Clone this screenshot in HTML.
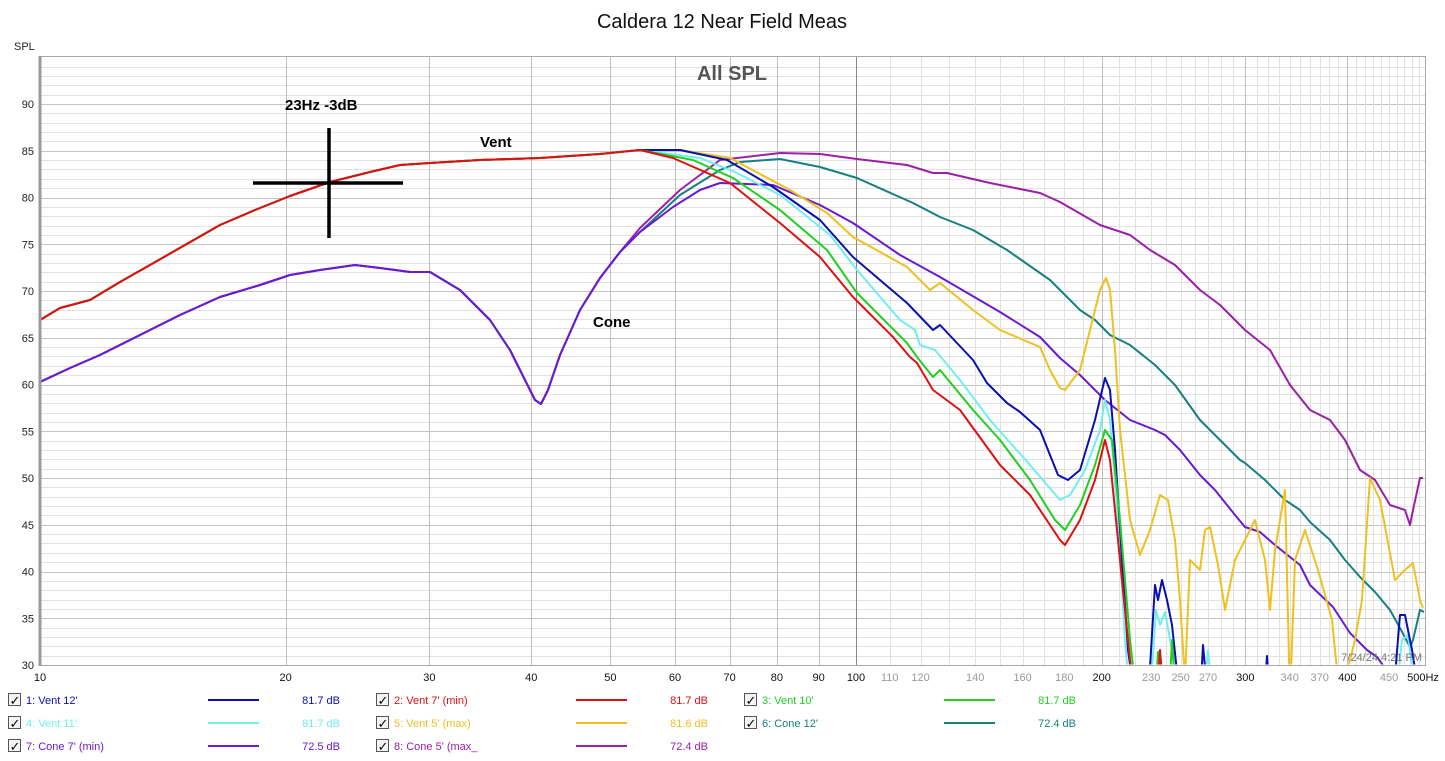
<!DOCTYPE html>
<html><head><meta charset="utf-8"><style>
body{margin:0;background:#fff;width:1445px;height:761px;overflow:hidden;font-family:"Liberation Sans",sans-serif}
svg{display:block}
</style></head><body>
<svg id="s" width="1445" height="761" xmlns="http://www.w3.org/2000/svg" font-family="Liberation Sans, sans-serif">
<defs><clipPath id="cp"><rect x="41" y="57" width="1384" height="607.5"/></clipPath></defs>
<rect width="1445" height="761" fill="#fff"/>
<g id="grid"></g>
<g id="curves" fill="none" stroke-width="2" stroke-linejoin="round" clip-path="url(#cp)"></g>
<rect x="40.5" y="56.5" width="1385" height="609" fill="none" stroke="#a8a8a8" stroke-width="1"/>
<line x1="40" y1="56" x2="40" y2="666" stroke="#9a9a9a" stroke-width="3"/>
<text x="722" y="28" font-size="20" text-anchor="middle" fill="#111">Caldera 12 Near Field Meas</text>
<text x="732" y="80" font-size="20" font-weight="bold" text-anchor="middle" fill="#555">All SPL</text>
<text x="14" y="50" font-size="11" fill="#222">SPL</text>
<g font-family="Liberation Sans, sans-serif" font-weight="bold" fill="#000">
<text x="285" y="110" font-size="15">23Hz -3dB</text>
<text x="480" y="147" font-size="15">Vent</text>
<text x="593" y="327" font-size="15">Cone</text>
</g>
<line x1="253" y1="183" x2="403" y2="183" stroke="#000" stroke-width="3.5"/>
<line x1="329" y1="128" x2="329" y2="238" stroke="#000" stroke-width="3.5"/>
<text x="1422" y="661" font-size="11" text-anchor="end" fill="#777">7/24/24 4:21 PM</text>
<g id="labels" font-size="11"></g>
<g id="legend" font-size="11"></g>
</svg>
<script>
var NS="http://www.w3.org/2000/svg";
function el(p,t,a,txt){var e=document.createElementNS(NS,t);for(var k in a)e.setAttribute(k,a[k]);if(txt!=null)e.textContent=txt;document.getElementById(p).appendChild(e);return e;}
function X(f){return 40+816*Math.log10(f/10);}
function Y(d){return 104+(90-d)*9.35;}
for(var d=31;d<=94;d++){var y=Math.round(Y(d))+0.5;el("grid","line",{x1:41,x2:1425,y1:y,y2:y,stroke:d%5==0?"#c4c4c4":"#e2e2e2","stroke-width":1});}
var vs=[20,30,40,50,60,70,80,90,100];
for(var f=110;f<500;f+=10)vs.push(f);
vs.forEach(function(f){var x=Math.round(X(f))+0.5;var maj=(f<=100)||f==200||f==300||f==400;
el("grid","line",{x1:x,x2:x,y1:57,y2:665,stroke:f==100?"#888":(maj?"#c0c0c0":"#e0e0e0"),"stroke-width":1});});
for(var d=30;d<=90;d+=5)el("labels","text",{x:34,y:Y(d)+4,"text-anchor":"end",fill:"#222"},String(d));
var xl=[[10,1],[20,1],[30,1],[40,1],[50,1],[60,1],[70,1],[80,1],[90,1],[100,1],[110,0],[120,0],[140,0],[160,0],[180,0],[200,1],[230,0],[250,0],[270,0],[300,1],[340,0],[370,0],[400,1],[450,0]];
xl.forEach(function(a){el("labels","text",{x:X(a[0]),y:681,"text-anchor":"middle",fill:a[1]?"#111":"#999"},String(a[0]));});
el("labels","text",{x:1423,y:681,"text-anchor":"middle",fill:"#111"},"500Hz");
var C={blue:"#0a10b0",red:"#e01010",green:"#20d020",cyan:"#70eef0",yellow:"#f0c020",teal:"#158080",violet:"#6a1ad0",purple:"#9a20a8"};
var vent=[[40,320],[60,308],[90,300],[120,282],[150,265],[185,245],[220,225],[255,210],[290,196],[330,182],[370,172],[400,165],[430,163],[480,160],[540,158],[600,154],[640,150]];
var cone=[[40,382],[70,368],[100,355],[140,335],[180,315],[220,297],[260,285],[290,275],[320,270],[355,265],[380,268],[410,272],[430,272],[460,290],[490,320],[510,350],[525,380],[535,400],[541,404],[548,390],[560,355],[580,310],[600,278],[620,252]];
var S={};
S.teal=cone.concat([[640,232],[680,195],[720,170],[740,162],[780,159],[820,167],[857,178],[913,203],[940,217],[973,230],[1007,250],[1050,280],[1080,310],[1095,320],[1110,335],[1130,345],[1155,365],[1175,385],[1200,420],[1220,440],[1240,460],[1245,463],[1265,480],[1285,500],[1300,510],[1310,522],[1330,540],[1345,560],[1360,577],[1375,592],[1390,610],[1400,628],[1410,647],[1413,640],[1420,610],[1424,612]]);
S.purple=cone.concat([[640,228],[680,190],[720,160],[780,153],[820,154],[857,159],[907,165],[933,173],[947,173],[990,183],[1040,193],[1060,202],[1100,225],[1130,235],[1150,250],[1175,265],[1200,290],[1220,305],[1245,330],[1270,350],[1290,385],[1310,410],[1330,420],[1345,440],[1360,470],[1375,480],[1390,505],[1405,510],[1410,525],[1413,510],[1420,478],[1423,478]]);
S.violet=cone.concat([[640,232],[673,207],[700,190],[720,183],[773,185],[820,205],[853,223],[900,255],[940,277],[1000,312],[1040,337],[1060,358],[1080,375],[1105,400],[1130,420],[1155,430],[1165,435],[1180,450],[1200,475],[1215,490],[1235,515],[1245,527],[1260,532],[1275,545],[1300,565],[1310,585],[1333,607],[1350,633],[1367,650],[1377,657],[1385,668],[1393,680]]);
S.yellow=vent.concat([[680,150],[730,158],[790,190],[827,213],[853,237],[907,267],[930,290],[940,283],[973,310],[1000,330],[1040,347],[1050,370],[1060,388],[1065,390],[1080,370],[1090,330],[1100,290],[1106,278],[1110,290],[1115,350],[1120,430],[1130,520],[1140,555],[1150,530],[1160,495],[1168,500],[1175,540],[1180,600],[1185,680],[1190,560],[1200,570],[1205,530],[1210,527],[1218,565],[1225,610],[1235,560],[1245,540],[1255,520],[1265,560],[1270,610],[1275,550],[1285,490],[1290,700],[1295,560],[1305,530],[1318,570],[1332,620],[1340,700],[1355,640],[1362,600],[1370,478],[1380,500],[1395,580],[1405,570],[1413,563],[1420,600],[1423,608]]);
S.blue=vent.concat([[680,150],[727,160],[773,187],[820,220],[853,257],[907,303],[933,330],[940,325],[973,360],[987,383],[1007,403],[1020,412],[1040,430],[1058,475],[1068,480],[1080,470],[1095,420],[1105,378],[1110,390],[1115,450],[1122,560],[1128,650],[1135,700],[1148,700],[1155,585],[1158,600],[1162,580],[1167,600],[1172,625],[1180,700],[1200,700],[1203,645],[1208,700],[1264,700],[1267,656],[1270,700],[1393,700],[1400,615],[1405,615],[1412,650],[1420,700]]);
S.cyan=vent.concat([[700,158],[735,172],[780,195],[830,235],[857,270],[900,320],[915,330],[920,345],[935,350],[960,380],[990,420],[1030,465],[1060,500],[1070,495],[1085,470],[1100,430],[1105,400],[1110,420],[1118,520],[1125,640],[1130,700],[1150,700],[1156,610],[1160,625],[1165,612],[1172,650],[1178,700],[1204,700],[1208,650],[1213,700],[1396,700],[1402,640],[1408,635],[1416,700]]);
S.green=vent.concat([[693,160],[733,178],[780,210],[827,250],[857,293],[907,343],[917,357],[933,377],[940,370],[973,410],[1000,440],[1030,480],[1055,520],[1065,530],[1080,505],[1095,465],[1105,430],[1112,440],[1120,520],[1130,640],[1137,700],[1155,700],[1158,652],[1162,700],[1169,700],[1172,640],[1176,700]]);
S.red=vent.concat([[673,158],[730,183],[780,223],[820,257],[853,297],[893,337],[910,357],[917,363],[933,390],[960,410],[1000,465],[1030,495],[1060,540],[1065,545],[1080,520],[1095,480],[1105,440],[1110,460],[1120,560],[1130,660],[1135,700],[1157,700],[1160,650],[1164,700]]);
["teal","purple","violet","yellow","cyan","blue","green","red"].forEach(function(k){
 el("curves","polyline",{points:S[k].map(function(p){return p[0]+","+p[1];}).join(" "),stroke:C[k]});});
var L=[["1: Vent 12'",C.blue,"81.7 dB"],["2: Vent 7' (min)",C.red,"81.7 dB"],["3: Vent 10'",C.green,"81.7 dB"],
["4: Vent 11'",C.cyan,"81.7 dB"],["5: Vent 5' (max)",C.yellow,"81.6 dB"],["6: Cone 12'",C.teal,"72.4 dB"],
["7: Cone 7' (min)",C.violet,"72.5 dB"],["8: Cone 5' (max_",C.purple,"72.4 dB"]];
var cols=[8,376,744];
L.forEach(function(it,i){var c=cols[i%3],y=700+Math.floor(i/3)*23;
 el("legend","rect",{x:c+0.5,y:y-6.5,width:12,height:12,fill:"#f4f4f4",stroke:"#555"});
 el("legend","text",{x:c+1.5,y:y+5,"font-size":"13",fill:"#000"},"\u2713");
 el("legend","text",{x:c+18,y:y+4,fill:it[1]},it[0]);
 el("legend","line",{x1:c+200,x2:c+251,y1:y,y2:y,stroke:it[1],"stroke-width":2});
 el("legend","text",{x:c+332,y:y+4,"text-anchor":"end",fill:it[1]},it[2]);});
</script>
</body></html>
